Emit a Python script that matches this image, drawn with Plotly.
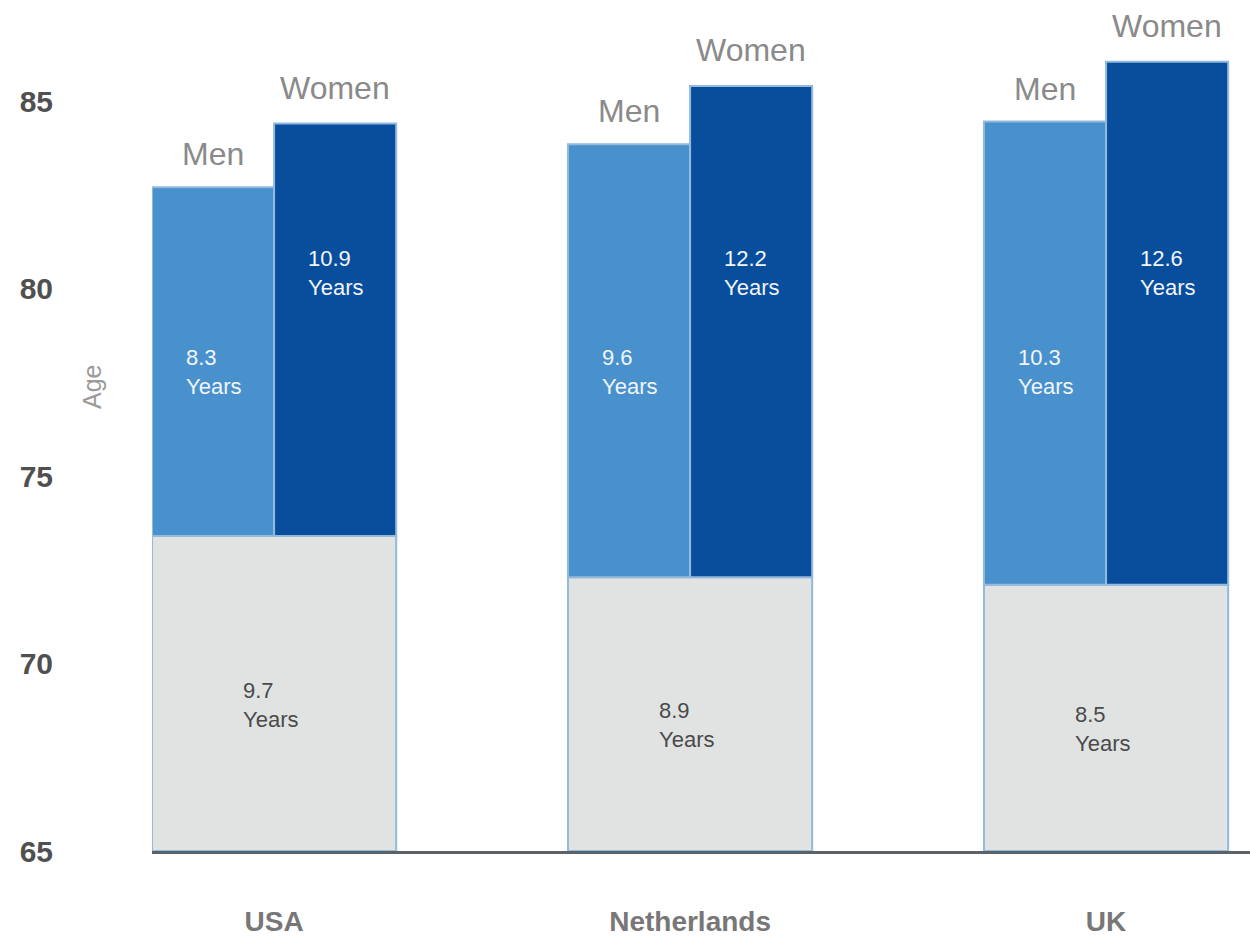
import plotly.graph_objects as go

countries = ["USA", "Netherlands", "UK"]
base_top = [73.4, 72.3, 72.1]
men_top = [82.7, 83.85, 84.45]
women_top = [84.4, 85.4, 86.05]
gray_labels = ["9.7", "8.9", "8.5"]
men_labels = ["8.3", "9.6", "10.3"]
women_labels = ["10.9", "12.2", "12.6"]
y_ticks = [65, 70, 75, 80, 85]

Y0 = 65
FONT = "Liberation Sans, Arial, sans-serif"
HALF = 0.2935
BORDER = "#93b9dd"

fig = go.Figure()
fig.add_trace(go.Bar(
    x=countries, base=[Y0] * 3, y=[b - Y0 for b in base_top],
    width=2 * HALF, offset=-HALF,
    marker=dict(color="#e0e3e2", line=dict(color=BORDER, width=2)),
    hoverinfo="skip", showlegend=False))
fig.add_trace(go.Bar(
    x=countries, base=base_top, y=[m - b for m, b in zip(men_top, base_top)],
    width=HALF, offset=-HALF,
    marker=dict(color="#4991cd", line=dict(color=BORDER, width=2)),
    hoverinfo="skip", showlegend=False))
fig.add_trace(go.Bar(
    x=countries, base=base_top, y=[w - b for w, b in zip(women_top, base_top)],
    width=HALF, offset=0,
    marker=dict(color="#084e9c", line=dict(color=BORDER, width=2)),
    hoverinfo="skip", showlegend=False))

ann = []
for i in range(len(countries)):
    xm = i - HALF / 2
    xw = i + HALF / 2
    ann.append(dict(x=xm, y=men_top[i], text="Men", showarrow=False, yanchor="middle",
                    yshift=33, font=dict(family=FONT, size=32, color="#8a8a8a")))
    ann.append(dict(x=xw, y=women_top[i], text="Women", showarrow=False, yanchor="middle",
                    yshift=36, font=dict(family=FONT, size=32, color="#8a8a8a")))
    ann.append(dict(x=xm, y=77.77, text=men_labels[i] + "<br>Years", showarrow=False,
                    align="left", yanchor="middle",
                    font=dict(family=FONT, size=22, color="#f2f5f9")))
    ann.append(dict(x=xw, y=80.41, text=women_labels[i] + "<br>Years", showarrow=False,
                    align="left", yanchor="middle",
                    font=dict(family=FONT, size=22, color="#f2f5f9")))
    ann.append(dict(x=i, y=(Y0 + base_top[i]) / 2, text=gray_labels[i] + "<br>Years",
                    showarrow=False, align="left", yanchor="middle", yshift=-11, xshift=-4,
                    font=dict(family=FONT, size=22, color="#4a4a4a")))

ann.append(dict(xref="paper", yref="paper", x=(92 - 152) / 1098, y=(851 - 387) / 851,
                xanchor="center", yanchor="middle",
                text="Age", textangle=-90, showarrow=False,
                font=dict(family=FONT, size=25, color="#9a9a9a")))

fig.update_layout(
    width=1250, height=936,
    margin=dict(l=152, r=0, t=0, b=85, autoexpand=False),
    paper_bgcolor="white", plot_bgcolor="white",
    barmode="overlay",
    annotations=ann,
    xaxis=dict(type="category", range=[-HALF, 2.346], showgrid=False, zeroline=False,
               showline=True, linecolor="#5a6266", linewidth=3, ticks="",
               ticklabelstandoff=43, automargin=False,
               tickfont=dict(family=FONT, size=28, color="#777777", weight="bold")),
    yaxis=dict(range=[Y0, Y0 + 851 / 37.5], tickvals=y_ticks, showgrid=False,
               zeroline=False, showline=False, ticks="", ticklabelstandoff=98,
               automargin=False,
               tickfont=dict(family=FONT, size=30, color="#505050", weight="bold")),
)

fig.write_html("out.html")
